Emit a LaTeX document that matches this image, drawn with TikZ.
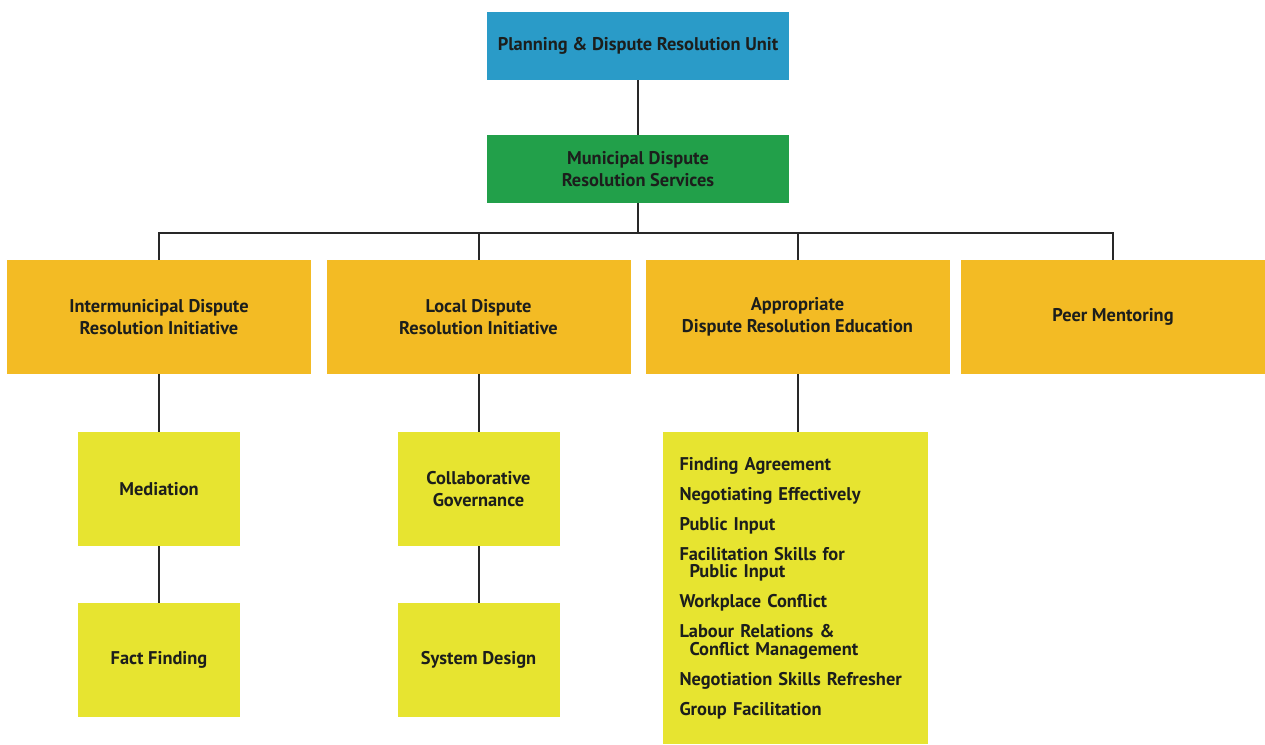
\documentclass[tikz,border=0pt]{standalone}
\usepackage{fontspec}
\setmainfont{PT Sans}
\usepackage{xcolor}
\definecolor{unitblue}{RGB}{42,155,200}
\definecolor{svcgreen}{RGB}{34,160,74}
\definecolor{initorange}{RGB}{243,187,36}
\definecolor{progyellow}{RGB}{231,228,48}
\definecolor{linkgray}{RGB}{40,40,40}
\definecolor{inkdark}{RGB}{28,30,28}

\tikzset{
  orgbox/.style={rectangle,inner sep=2pt,align=center,text=inkdark,
    font=\bfseries\fontsize{13.8}{16.5}\selectfont},
  topbox/.style={orgbox,minimum width=226.5pt,minimum height=51pt},
  initbox/.style={orgbox,fill=initorange,minimum width=228pt,minimum height=85.5pt},
  progbox/.style={orgbox,fill=progyellow,minimum width=121.5pt,minimum height=85.5pt},
  link/.style={draw=linkgray,line width=1.5pt}
}

\begin{document}
\begin{tikzpicture}[x=0.75pt,y=0.75pt,yscale=-1]
        \useasboundingbox (0,0) rectangle (1265,744);

        % Unit and services
        \node [topbox,fill=unitblue] (pdru) at (638,46) {Planning \& Dispute Resolution Unit};
        \node [topbox,fill=svcgreen] (mdrs) at (638,169) {Municipal Dispute\\Resolution Services};

        % Initiatives
        \node [initbox] (imdr) at (159,317) {Intermunicipal Dispute\\Resolution Initiative};
        \node [initbox] (ldri) at (478.5,317) {Local Dispute\\Resolution Initiative};
        \node [initbox] (adre) at (797.5,317) {Appropriate\\Dispute Resolution Education};
        \node [initbox] (peer) at (1113,317) {Peer Mentoring};

        % Programs
        \node [progbox] (med) at (159,489) {Mediation};
        \node [progbox] (fact) at (159,660) {Fact Finding};
        \node [progbox] (collab) at (478.5,489) {Collaborative\\Governance};
        \node [progbox] (sysd) at (478.5,660) {System Design};
        \node [orgbox,fill=progyellow,minimum width=198.75pt,minimum height=234pt,
               text width=174pt,align=left,font=\bfseries\fontsize{13.8}{13}\selectfont]
               (edu) at (795.5,588) {Finding Agreement\\[9.5pt]
          Negotiating Effectively\\[9.5pt]
          Public Input\\[9.5pt]
          Facilitation Skills for\\
          \hspace*{7.5pt}Public Input\\[9.5pt]
          Workplace Conflict\\[9.5pt]
          Labour Relations \&\\
          \hspace*{7.5pt}Conflict Management\\[9.5pt]
          Negotiation Skills Refresher\\[9.5pt]
          Group Facilitation};

        % Connectors
        \coordinate (bus) at (638,233);
        \draw [link] (pdru.south) -- (mdrs.north);
        \draw [link] (mdrs.south) -- (bus);
        \draw [link] (bus) -| (imdr.north);
        \draw [link] (bus) -| (ldri.north);
        \draw [link] (bus) -| (adre.north);
        \draw [link] (bus) -| (peer.north);
        \draw [link] (imdr.south) -- (med.north);
        \draw [link] (med.south) -- (fact.north);
        \draw [link] (ldri.south) -- (collab.north);
        \draw [link] (collab.south) -- (sysd.north);
        \draw [link] (adre.south) -- (adre.south |- edu.north);

\end{tikzpicture}
\end{document}
